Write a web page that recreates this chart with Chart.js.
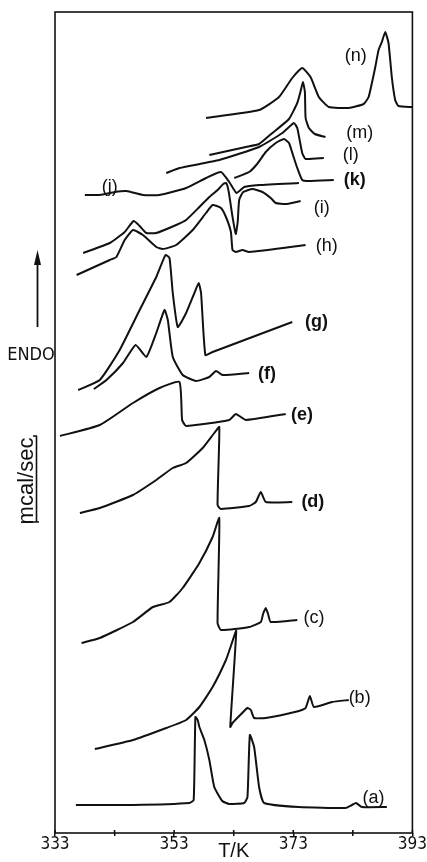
<!DOCTYPE html>
<html>
<head>
<meta charset="utf-8">
<script src="https://cdn.jsdelivr.net/npm/chart.js@4.4.0/dist/chart.umd.min.js"></script>
<style>
html,body{margin:0;padding:0;background:#fff;}
#wrap{width:427px;height:862px;position:relative;}
</style>
</head>
<body>
<div id="wrap"><canvas id="c"></canvas></div>
<script>
// ---- data (T in K, heat flow in arbitrary units) ----
const X_TICKS = [333, 343, 353, 363, 373, 383, 393];
const X_TICK_LABELS = ['333', '', '353', '', '373', '', '393'];
const CURVE_NAMES = ['(a)','(b)','(c)','(d)','(e)','(f)','(g)','(h)','(i)','(j)','(k)','(l)','(m)','(n)'];

const curveA = [[336.51,28],[346.09,28],[355.56,30],[356.28,33],[356.57,116],[356.95,113],[357.24,106],[358.07,93],[358.91,73],[359.74,46],[361.08,32],[362.25,29],[364.76,30],[365.31,36],[365.71,98],[366.43,86],[367.26,46],[368.10,30],[373.95,26],[381.75,25],[382.86,28],[383.53,30],[384.53,26],[388.71,26]];
const curveB = [[339.69,84],[346.09,93],[351.67,105],[355.01,113],[357.24,126],[359.46,146],[361.70,173],[362.58,188],[363.42,202],[362.42,106],[362.80,110],[364.09,118],[365.31,125],[365.88,123],[366.43,115],[368.38,115],[373.95,122],[375.07,125],[375.79,137],[376.46,126],[379.52,131],[382.31,133]];
const curveC = [[337.46,190],[340.52,195],[346.09,211],[349.43,226],[352.22,231],[354.44,245],[357.24,270],[359.46,296],[360.58,315],[360.29,210],[360.86,203],[365.59,206],[367.55,211],[367.93,219],[368.38,225],[368.77,219],[369.22,211],[373.67,213]];
const curveD = [[337.18,320],[340.52,325],[346.09,338],[350.00,353],[352.77,365],[355.01,370],[357.79,385],[359.74,400],[360.58,406],[360.29,328],[360.86,324],[365.59,327],[366.71,331],[367.55,341],[368.38,331],[372.83,331]];
const curveE = [[333.84,397],[340.52,408],[346.09,430],[350.55,445],[353.89,451],[354.34,413],[355.01,407],[362.25,413],[363.37,419],[365.04,413],[371.73,419]];
const curveF = [[339.52,444],[341.64,453],[344.42,470],[346.54,488],[348.33,476],[350.00,500],[351.39,523],[351.94,513],[352.77,476],[354.44,458],[356.68,452],[358.91,456],[360.03,462],[361.13,458],[365.59,460]];
const curveG = [[336.89,443],[340.52,453],[343.86,483],[347.21,523],[350.00,556],[351.55,578],[352.22,575],[352.77,540],[353.61,506],[355.01,520],[356.40,540],[357.12,550],[357.52,540],[358.24,478],[359.46,481],[372.83,511]];
const curveH = [[336.63,558],[342.19,573],[343.31,576],[344.70,593],[346.09,603],[347.76,598],[350.00,586],[351.10,584],[353.34,588],[356.12,603],[358.35,620],[359.46,628],[360.86,625],[361.70,616],[362.53,601],[362.80,583],[363.37,581],[364.47,583],[365.59,581],[375.07,588]];
const curveI = [[337.73,580],[342.19,590],[344.70,601],[346.20,612],[347.21,607],[348.33,600],[350.00,600],[353.34,608],[355.01,613],[357.24,626],[358.91,636],[360.29,643],[361.25,649],[361.75,650],[362.17,641],[362.75,618],[363.34,599],[363.67,611],[363.92,633],[364.59,641],[366.14,644],[367.82,641],[369.22,635],[370.06,630],[371.73,629],[374.23,632]];
const curveJ = [[338.01,638],[340.52,638],[343.03,641],[344.98,642],[347.76,638],[350.55,638],[355.01,645],[358.35,655],[360.86,661],[362.25,651],[363.47,640],[364.76,646],[367.26,648],[373.95,650]];
const curveK = [[363.09,655],[365.59,661],[366.93,669],[368.38,681],[370.06,690],[371.44,694],[372.28,690],[372.95,678],[373.67,665],[374.50,653],[375.62,652],[379.80,653]];
const curveL = [[351.67,660],[353.89,665],[360.58,673],[367.26,686],[371.16,700],[373.11,710],[373.67,705],[374.50,680],[375.07,674],[378.13,675]];
const curveM = [[358.91,678],[365.04,686],[367.26,689],[369.49,700],[372.28,714],[373.67,730],[374.20,741],[374.62,751],[374.95,741],[375.07,715],[375.62,705],[376.62,699],[378.41,696]];
const curveN = [[358.35,715],[367.26,723],[370.61,736],[372.83,755],[374.50,765],[375.90,756],[377.29,736],[378.96,726],[382.31,725],[384.81,729],[385.65,736],[386.77,766],[387.32,783],[387.87,791],[388.44,801],[388.99,790],[389.54,756],[390.11,733],[390.66,727],[393.00,726]];

const CURVES = [curveA, curveB, curveC, curveD, curveE, curveF, curveG, curveH, curveI, curveJ, curveK, curveL, curveM, curveN];

// label anchors (in data coordinates T, value)
const LABEL_ANCHORS = [[386.48,35],[384.14,135],[376.46,215],[376.29,331],[374.45,418],[368.60,459],[376.88,511],[378.63,587],[377.79,625],[342.19,646],[383.31,653],[382.64,678],[384.14,700],[383.48,777]];
const BOLD_LABELS = ['(d)','(e)','(f)','(g)','(k)'];

const INK = '#111';
const COND = '"DejaVu Sans Condensed", "Liberation Sans Narrow", "DejaVu Sans", sans-serif';

const annotPlugin = {
  id: 'annot',
  afterDraw(chart) {
    const {ctx, chartArea: a, scales: {x, y}} = chart;
    ctx.save();
    ctx.strokeStyle = INK;
    ctx.fillStyle = INK;
    ctx.lineWidth = 1.6;
    ctx.strokeRect(a.left, a.top, a.right - a.left, a.bottom - a.top);
    // inward part of tick marks
    X_TICKS.forEach(v => {
      const px = x.getPixelForValue(v);
      ctx.beginPath(); ctx.moveTo(px, a.bottom); ctx.lineTo(px, a.bottom - 3); ctx.stroke();
    });
    // curve labels
    ctx.textAlign = 'center';
    ctx.textBaseline = 'middle';
    CURVE_NAMES.forEach((name, i) => {
      const [t, v] = LABEL_ANCHORS[i];
      ctx.font = (BOLD_LABELS.includes(name) ? 'bold ' : '') + '18px "Liberation Sans", Arial, sans-serif';
      ctx.fillText(name, x.getPixelForValue(t), y.getPixelForValue(v));
    });
    // ENDO
    ctx.font = '18px ' + COND;
    ctx.fillText('ENDO', 31, y.getPixelForValue(478));
    // arrow
    const tipY = y.getPixelForValue(583), baseY = y.getPixelForValue(506);
    ctx.lineWidth = 1.8;
    ctx.beginPath(); ctx.moveTo(37.5, tipY + 12); ctx.lineTo(37.5, baseY); ctx.stroke();
    ctx.beginPath(); ctx.moveTo(37.5, tipY); ctx.lineTo(34, tipY + 15); ctx.lineTo(41, tipY + 15); ctx.closePath(); ctx.fill();
    // mcal/sec (rotated)
    ctx.save();
    ctx.translate(33, y.getPixelForValue(352));
    ctx.rotate(-Math.PI / 2);
    ctx.textBaseline = 'alphabetic';
    ctx.font = '22px "Liberation Sans", Arial, sans-serif';
    ctx.fillText('mcal/sec', 0, 0);
    ctx.restore();
    // scale bar
    const b1 = y.getPixelForValue(397), b2 = y.getPixelForValue(311);
    ctx.lineWidth = 1.6;
    ctx.beginPath();
    ctx.moveTo(33, b1); ctx.lineTo(37, b1);
    ctx.moveTo(36.5, b1); ctx.lineTo(36.5, b2);
    ctx.moveTo(33, b2); ctx.lineTo(39, b2);
    ctx.stroke();
    ctx.restore();
  }
};

const datasets = CURVES.map((c, i) => ({
  label: CURVE_NAMES[i],
  data: c.map(([t, v]) => ({x: t, y: v})),
  showLine: true,
  borderColor: INK,
  borderWidth: 2,
  pointRadius: 0,
  tension: 0.15,
  fill: false
}));

new Chart(document.getElementById('c'), {
  type: 'scatter',
  data: {datasets},
  options: {
    responsive: true,
    maintainAspectRatio: false,
    animation: false,
    layout: {padding: {left: 55, right: 13, top: 12, bottom: 0}},
    plugins: {legend: {display: false}, tooltip: {enabled: false}},
    scales: {
      x: {
        type: 'linear', min: 333, max: 393,
        afterBuildTicks: s => { s.ticks = X_TICKS.map(v => ({value: v})); },
        afterFit: s => { s.height = 29; },
        grid: {display: true, drawOnChartArea: false, drawTicks: true, tickLength: 3, color: INK, lineWidth: 1.5},
        border: {display: false},
        ticks: {
          autoSkip: false, maxRotation: 0, padding: 0, color: INK,
          callback: v => X_TICK_LABELS[X_TICKS.indexOf(v)],
          font: {family: COND, size: 17, lineHeight: 1}
        },
        title: {display: true, text: 'T/K', color: INK, padding: {top: 0, bottom: 0},
          font: {family: '"Liberation Sans", Arial, sans-serif', size: 20, lineHeight: 1.1}}
      },
      y: {display: false, min: 0, max: 821}
    }
  },
  plugins: [annotPlugin]
});
</script>
</body>
</html>
